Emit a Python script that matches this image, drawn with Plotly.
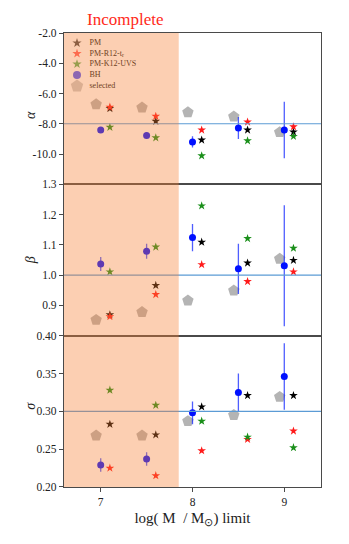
import plotly.graph_objects as go
from plotly.subplots import make_subplots

# ---------------- data ----------------
mass_limits = [7.0, 7.5, 8.0, 8.5, 9.0]

alpha_sel = [-6.71, -6.93, -7.24, -7.52, -8.56]
alpha_bh = [-8.41, -8.78, -9.20, -8.28, -8.41]
alpha_bh_err = [0.10, 0.10, 0.37, 0.73, 1.87]
alpha_pm = [-6.99, -7.83, -9.07, -8.41, -8.54]
alpha_r12 = [-6.90, -7.50, -8.41, -7.88, -8.19]
alpha_k12 = [-8.23, -8.92, -10.11, -9.12, -8.83]

beta_sel = [0.852, 0.878, 0.916, 0.949, 1.054]
beta_bh = [1.037, 1.079, 1.124, 1.021, 1.031]
beta_bh_err = [0.023, 0.025, 0.045, 0.083, 0.200]
beta_pm = [0.869, 0.966, 1.109, 1.040, 1.049]
beta_r12 = [0.863, 0.936, 1.035, 0.979, 1.011]
beta_k12 = [1.011, 1.093, 1.229, 1.121, 1.089]

sigma_sel = [0.268, 0.268, 0.287, 0.295, 0.319]
sigma_bh = [0.229, 0.237, 0.298, 0.325, 0.346]
sigma_bh_err = [0.009, 0.009, 0.015, 0.025, 0.044]
sigma_pm = [0.283, 0.269, 0.306, 0.321, 0.321]
sigma_r12 = [0.225, 0.215, 0.248, 0.263, 0.274]
sigma_k12 = [0.328, 0.308, 0.287, 0.266, 0.252]

reference_values = [-8.0, 1.0, 0.30]
incomplete_limit = 7.85

alpha_ticks = [-2.0, -4.0, -6.0, -8.0, -10.0]
beta_ticks = [1.3, 1.2, 1.1, 1.0, 0.9]
sigma_ticks = [0.40, 0.35, 0.30, 0.25, 0.20]
x_ticks = [7, 8, 9]

legend_names = ["PM", "PM-R12-t<sub>r</sub>", "PM-K12-UVS", "BH", "selected"]

# ---------------- style ----------------
SERIF = "Liberation Serif"
C_PM = "#000000"
C_R12 = "#ff1a1a"
C_K12 = "#1a8f1a"
C_BH = "#0010ff"
C_SEL = "#b4b4b4"
C_REF = "#5b9bd5"

x_sel = [m - 0.05 for m in mass_limits]
x_bh = mass_limits
x_star = [m + 0.1 for m in mass_limits]

fig = make_subplots(rows=3, cols=1, shared_xaxes=True, vertical_spacing=0)

panels = [
    (alpha_sel, alpha_bh, alpha_bh_err, alpha_pm, alpha_r12, alpha_k12),
    (beta_sel, beta_bh, beta_bh_err, beta_pm, beta_r12, beta_k12),
    (sigma_sel, sigma_bh, sigma_bh_err, sigma_pm, sigma_r12, sigma_k12),
]

for i, (sel, bh, bhe, pm, r12, k12) in enumerate(panels):
    row = i + 1
    fig.add_trace(go.Scatter(x=x_sel, y=sel, mode="markers", showlegend=False,
                             marker=dict(symbol="pentagon", size=12, color=C_SEL,
                                         line=dict(width=0))), row=row, col=1)
    fig.add_trace(go.Scatter(x=x_bh, y=bh, mode="markers", showlegend=False,
                             error_y=dict(type="data", array=bhe, visible=True,
                                          color="rgba(20,40,255,0.75)", thickness=1.3, width=0),
                             marker=dict(symbol="circle", size=7, color=C_BH,
                                         line=dict(width=0))), row=row, col=1)
    for vals, col in [(pm, C_PM), (r12, C_R12), (k12, C_K12)]:
        fig.add_trace(go.Scatter(x=x_star, y=vals, mode="markers", showlegend=False,
                                 marker=dict(symbol="star", size=6.5, color=col,
                                             line=dict(width=0))), row=row, col=1)

# reference lines
for i, ref in enumerate(reference_values):
    ax = "" if i == 0 else str(i + 1)
    fig.add_shape(type="line", xref=f"x{ax} domain", yref=f"y{ax}", x0=0, x1=1,
                  y0=ref, y1=ref, line=dict(color=C_REF, width=1.1), layer="above")

# axes
axis_common = dict(showgrid=False, zeroline=False, showline=True, mirror=True,
                   linecolor="#4a4a4a", linewidth=1.3, ticks="outside", ticklen=4,
                   tickwidth=1, tickcolor="#4a4a4a",
                   tickfont=dict(family=SERIF, size=11.5, color="#222"))
fig.update_yaxes(**axis_common)
fig.update_xaxes(**axis_common)
fig.update_xaxes(range=[6.6, 9.4], tickvals=x_ticks, ticktext=[str(t) for t in x_ticks])
fig.update_xaxes(ticks="", showticklabels=False, row=1, col=1)
fig.update_xaxes(ticks="", showticklabels=False, row=2, col=1)
fig.update_xaxes(title=dict(text="log( M  / M<sub>⊙</sub>) limit",
                            font=dict(family=SERIF, size=15, color="#222"), standoff=5),
                 row=3, col=1)

fig.update_yaxes(range=[-12, -2], tickvals=alpha_ticks,
                 ticktext=[f"{t:.1f}" for t in alpha_ticks], row=1, col=1)
fig.update_yaxes(range=[0.8, 1.3], tickvals=beta_ticks,
                 ticktext=[f"{t:.1f}" for t in beta_ticks], row=2, col=1)
fig.update_yaxes(range=[0.2, 0.4], tickvals=sigma_ticks,
                 ticktext=[f"{t:.2f}" for t in sigma_ticks], row=3, col=1)

# y titles as annotations
for i, lab in enumerate(["α", "β", "σ"]):
    ycen = 1 - (2 * i + 1) / 6
    fig.add_annotation(text=f"<i>{lab}</i>", xref="paper", yref="paper",
                       x=-0.168, y=ycen, showarrow=False, textangle=-90,
                       font=dict(family=SERIF, size=14, color="#222"))

# Custom compact legend on an overlay axis of top panel (pixel-like coords)
leg_colors = [C_PM, C_R12, C_K12, C_BH, C_SEL]
leg_symbols = ["star", "star", "star", "circle", "pentagon"]
leg_sizes = [7, 7, 7, 8, 13]
leg_rows = [43, 53.5, 64, 75, 86]
fig.add_trace(go.Scatter(x=[77] * len(leg_rows), y=leg_rows, mode="markers",
                         showlegend=False, hoverinfo="skip",
                         marker=dict(symbol=leg_symbols, size=leg_sizes, color=leg_colors,
                                     line=dict(width=0)),
                         xaxis="x4", yaxis="y4"))
fig.add_trace(go.Scatter(x=[89.5] * len(leg_rows), y=leg_rows, mode="text",
                         text=legend_names, textposition="middle right",
                         showlegend=False, hoverinfo="skip",
                         textfont=dict(family=SERIF, size=8, color="#111"),
                         xaxis="x4", yaxis="y4"))
fig.update_layout(
    xaxis4=dict(overlaying="x", range=[64, 321], visible=False, anchor="y4"),
    yaxis4=dict(overlaying="y", range=[184, 33], visible=False, anchor="x4"),
)

# Incomplete shaded region drawn on top (translucent)
fig.add_shape(type="rect", xref="x", yref="paper", x0=6.6, x1=incomplete_limit,
              y0=0, y1=1, fillcolor="rgba(248,128,52,0.38)", line=dict(width=0),
              layer="above")

fig.add_annotation(text="Incomplete", xref="x", yref="paper", x=(6.6 + incomplete_limit) / 2 + 0.04,
                   y=1.0, yanchor="bottom", yshift=2, showarrow=False,
                   font=dict(family=SERIF, size=17, color="#ff2a1a"))

# page has an 8px body margin: size the figure so the plot area lands where the reference has it
fig.update_layout(width=341, height=536, margin=dict(l=56, r=28, t=25, b=57),
                  plot_bgcolor="white", paper_bgcolor="white", showlegend=False)

fig.write_html("out.html")
